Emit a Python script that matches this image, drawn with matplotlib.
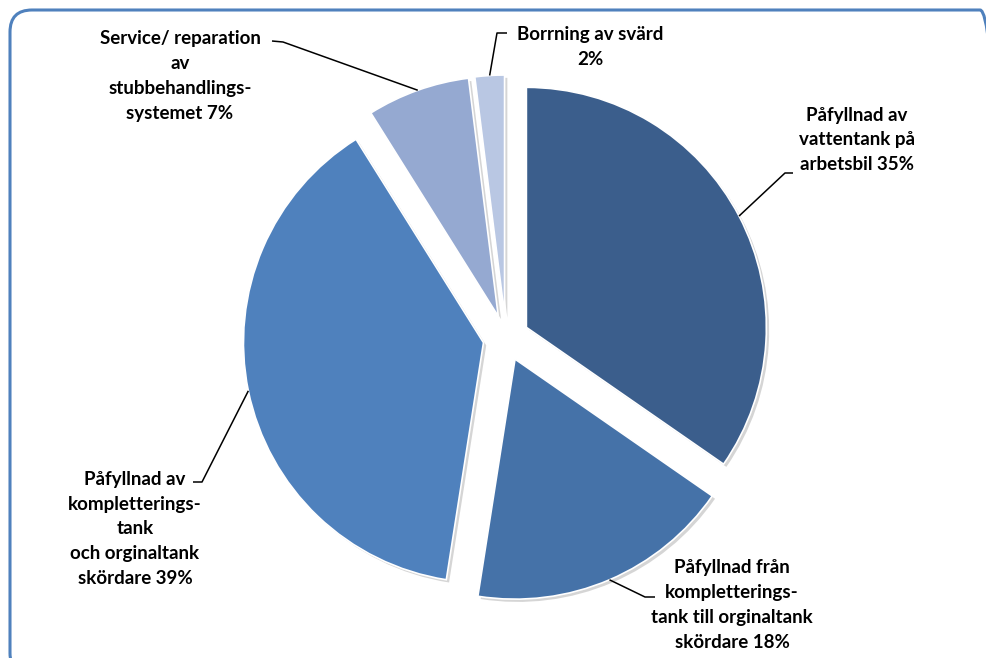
import numpy as np
import matplotlib.pyplot as plt
import matplotlib.patheffects as pe
from matplotlib.patches import FancyBboxPatch

# andel av tiden per moment
labels = ['Påfyllnad av\nvattentank på\narbetsbil 35%',
          'Påfyllnad från\nkompletterings-\ntank till orginaltank\nskördare 18%',
          'Påfyllnad av\nkompletterings-\ntank\noch orginaltank\nskördare 39%',
          'Service/ reparation\nav\nstubbehandlings-\nsystemet 7%',
          'Borrning av svärd\n2%']
values = [35, 18, 39, 7, 2]
colors = ['#3B5E8C', '#4572A8', '#4F81BD', '#95A9D1', '#B9C7E3']

W, H = 986, 658
cx, cy, r = 506, H - 338, 240
expl = 23  # pie() flyttar tårtbitarna i dataenheter

# textplacering (px) och knäpunkt för hänvisningslinjerna
text_pos = [(857, 140), (732, 605), (135, 529), (180, 76), (590, 47)]
elbows = [[(785, 173), (793, 173)],
          [(645, 597), (655, 597)],
          [(202, 482), (193, 482)],
          [(283, 42), (272, 41)],
          [(497, 33), (507, 33)]]

fig = plt.figure(figsize=(W / 100, H / 100), dpi=100)
ax = fig.add_axes([0, 0, 1, 1])

wedges, _ = ax.pie(values, colors=colors, startangle=90, counterclock=False,
                   explode=[expl] * len(values), center=(cx, cy), radius=r,
                   wedgeprops=dict(edgecolor='white', linewidth=1.2))
for w in wedges:
    w.set_path_effects([pe.SimplePatchShadow(offset=(2, -2), shadow_rgbFace='#888888', alpha=0.35),
                        pe.Normal()])

for w, lab, (tx, ty), elb in zip(wedges, labels, text_pos, elbows):
    mid = np.deg2rad((w.theta1 + w.theta2) / 2)
    wx, wy = w.center
    px, py = wx + r * np.cos(mid), wy + r * np.sin(mid)
    xs = [px] + [e[0] for e in elb]
    ys = [py] + [H - e[1] for e in elb]
    ax.plot(xs, ys, color='black', lw=1.1, solid_capstyle='butt')
    ax.text(tx, H - ty, lab, ha='center', va='center', fontsize=13.5,
            fontweight='bold', family='Lato', linespacing=1.55)

ax.set_xlim(0, W)
ax.set_ylim(0, H)
ax.set_aspect('auto')
ax.axis('off')

# ramen går utanför bildens högra och nedre kant
frame = FancyBboxPatch((10, -17), 992, 665, boxstyle='round,pad=0,rounding_size=22',
                       transform=None, fill=False, edgecolor='#4F81BD', linewidth=2.2)
fig.patches.append(frame)

plt.savefig('out.png', dpi=100)
